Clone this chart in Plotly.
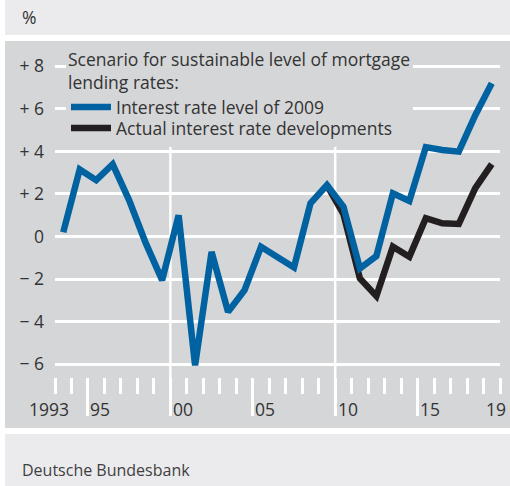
import plotly.graph_objects as go

# --- data ---
years = list(range(1993, 2020))
scenario_2009 = [0.2, 3.15, 2.65, 3.4, 1.7, -0.3, -2.05, 1.0, -6.05, -0.72, -3.54, -2.52,
                 -0.48, -0.98, -1.45, 1.56, 2.42, 1.4, -1.5, -0.92, 2.03, 1.67, 4.2, 4.07,
                 3.99, 5.7, 7.2]
actual_years = list(range(2009, 2020))
actual = [2.42, 1.05, -1.97, -2.8, -0.48, -0.95, 0.86, 0.62, 0.59, 2.27, 3.4]

y_ticks = [8, 6, 4, 2, 0, -2, -4, -6]
y_ticktext = ["+ 8", "+ 6", "+ 4", "+ 2", "0", "\u2212 2", "\u2212 4", "\u2212 6"]
x_label_years = [1993, 1995, 2000, 2005, 2010, 2015, 2019]
x_labels = ["1993", "95", "00", "05", "10", "15", "19"]

BLUE = "#0062a1"
BLACK = "#231f20"
PANEL = "#d5d6d8"
LIGHT = "#ebebed"
TEXT = "#333333"
FONT = "Open Sans"
FS = 17.5

W, H = 510, 486
ML, MR, MT, MB = 55, 10, 45, 109
PW, PH = W - ML - MR, H - MT - MB


def px_x(px):
    return (px - ML) / PW


def px_y(py):
    return (H - MB - py) / PH


fig = go.Figure()

# plot points sit mid-year, ticks on year boundaries
fig.add_trace(go.Scatter(x=[y + 0.5 for y in actual_years], y=actual, mode="lines",
                         name="Actual interest rate developments", legend="legend2",
                         line=dict(color=BLACK, width=6.5)))
fig.add_trace(go.Scatter(x=[y + 0.5 for y in years], y=scenario_2009, mode="lines",
                         name="Interest rate level of 2009", legend="legend",
                         line=dict(color=BLUE, width=6.5)))

shapes = [
    dict(type="rect", xref="paper", yref="paper", x0=px_x(5), x1=px_x(510),
         y0=px_y(35), y1=px_y(0), fillcolor=LIGHT, line_width=0, layer="below"),
    dict(type="rect", xref="paper", yref="paper", x0=px_x(5), x1=px_x(510),
         y0=px_y(428), y1=px_y(41), fillcolor=PANEL, line_width=0, layer="below"),
    dict(type="rect", xref="paper", yref="paper", x0=px_x(5), x1=px_x(510),
         y0=px_y(486), y1=px_y(434), fillcolor=LIGHT, line_width=0, layer="below"),
]
# vertical guides at 2000 and 2010 stop below the key text
for yr in (2000, 2010):
    shapes.append(dict(type="line", xref="x", yref="paper", x0=yr, x1=yr,
                       y0=px_y(415), y1=px_y(147), line=dict(color="white", width=2.5),
                       layer="below"))

annotations = [
    dict(text="%", xref="paper", yref="paper", x=px_x(20), y=px_y(17), xanchor="left",
         yanchor="middle", showarrow=False, font=dict(size=FS, color=TEXT)),
    dict(text="Deutsche Bundesbank", xref="paper", yref="paper", x=px_x(20), y=px_y(470),
         xanchor="left", yanchor="middle", showarrow=False, font=dict(size=16, color="#404040")),
]
for yr, lab in zip(x_label_years, x_labels):
    if lab == "1993":
        annotations.append(dict(text=lab, x=yr + 1.0, xanchor="right", xref="x",
                                yref="paper", y=px_y(409), yanchor="middle",
                                showarrow=False, font=dict(size=FS, color=TEXT)))
    else:
        annotations.append(dict(text=lab, x=yr + 0.02, xanchor="left", xref="x",
                                yref="paper", y=px_y(409), yanchor="middle",
                                showarrow=False, font=dict(size=FS, color=TEXT)))

legend_common = dict(borderwidth=0, font=dict(size=FS, color=TEXT),
                     itemwidth=40, xanchor="left")

fig.update_layout(
    width=W, height=H,
    margin=dict(l=ML, r=MR, t=MT, b=MB),
    paper_bgcolor="white",
    plot_bgcolor=PANEL,
    font=dict(family=FONT, size=FS, color=TEXT),
    shapes=shapes,
    annotations=annotations,
    legend=dict(
        title=dict(text="Scenario for sustainable level of mortgage<br>lending rates:",
                   font=dict(size=FS, color=TEXT)),
        x=px_x(66), y=px_y(43.7), yanchor="top", bgcolor=PANEL, **legend_common,
    ),
    legend2=dict(x=px_x(66), y=px_y(128), yanchor="middle",
                 bgcolor="rgba(0,0,0,0)", **legend_common),
    showlegend=True,
    xaxis=dict(
        range=[1993, 2020], showgrid=False, zeroline=False, showline=False,
        tickvals=[1995, 2000, 2005, 2010, 2015], ticks="outside", ticklen=38,
        tickcolor="white", tickwidth=2.5, showticklabels=False,
        minor=dict(ticks="outside", ticklen=16, tickcolor="white", tickwidth=2.5,
                   dtick=1, tick0=1993, showgrid=False),
    ),
    yaxis=dict(
        range=[-6.6, 9.0], tickvals=y_ticks, ticktext=y_ticktext,
        showgrid=True, gridcolor="white", gridwidth=2.5, zeroline=False,
        showline=False, ticks="", ticklabelstandoff=10,
        tickfont=dict(size=FS, color=TEXT),
    ),
)

# the page gets no default body margin, so the figure starts at the window corner
fig.write_html("out.html", config={"displayModeBar": False},
               post_script="document.body.style.margin='0px';")
